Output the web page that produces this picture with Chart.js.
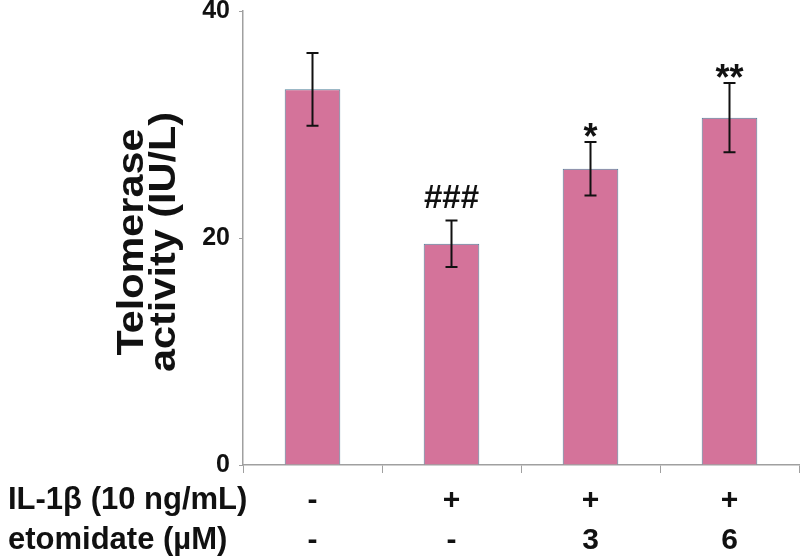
<!DOCTYPE html>
<html>
<head>
<meta charset="utf-8">
<script src="https://cdn.jsdelivr.net/npm/chart.js@4"></script>
<style>
  html, body { margin: 0; padding: 0; background: #fff; }
  #wrap { width: 800px; height: 558px; }
</style>
</head>
<body>
<div id="wrap"><canvas id="chart" width="800" height="558"></canvas></div>
<script>
// datos
const groups = ['ctrl', 'il1b', 'eto3', 'eto6'];
const telomerase = [33.1, 19.5, 26.1, 30.6];
const errors = [3.2, 2.05, 2.35, 3.05];
const marks = ['', '###', '*', '**'];
const rowLabels = ['IL-1β (10 ng/mL)', 'etomidate (µM)'];
const il1bRow = ['-', '+', '+', '+'];
const etomidateRow = ['-', '-', '3', '6'];
const yTicks = [0, 20, 40];

const FONT = 'Arial, "Liberation Sans", sans-serif';

// barras de error + asteriscos
const errorBars = {
    id: 'errorBars',
    afterDatasetsDraw(chart) {
        const { ctx, scales: { x, y } } = chart;
        ctx.save();
        ctx.strokeStyle = '#111';
        ctx.lineWidth = 2;
        telomerase.forEach((v, i) => {
            const cx = x.getPixelForValue(i);
            const top = y.getPixelForValue(v + errors[i]);
            const bot = y.getPixelForValue(v - errors[i]);
            ctx.beginPath();
            ctx.moveTo(cx, top); ctx.lineTo(cx, bot);
            ctx.moveTo(cx - 6, top); ctx.lineTo(cx + 6, top);
            ctx.moveTo(cx - 6, bot); ctx.lineTo(cx + 6, bot);
            ctx.stroke();
            if (marks[i]) {
                ctx.fillStyle = '#111';
                ctx.textAlign = 'center';
                ctx.textBaseline = 'alphabetic';
                if (marks[i].startsWith('*')) {
                    ctx.font = 'bold 36px ' + FONT;
                    ctx.fillText(marks[i], cx, top + 7);
                } else {
                    ctx.font = 'bold 33px ' + FONT;
                    ctx.fillText(marks[i], cx, top - 12);
                }
            }
        });
        ctx.restore();
    }
};

// tabla de tratamientos debajo del eje y título del eje Y
const treatmentTable = {
    id: 'treatmentTable',
    afterDraw(chart) {
        const { ctx, scales: { x } } = chart;
        ctx.save();
        ctx.fillStyle = '#111';
        ctx.font = 'bold 31px ' + FONT;
        ctx.textBaseline = 'alphabetic';
        const rows = [il1bRow, etomidateRow];
        const rowY = [509, 549];
        rows.forEach((row, r) => {
            ctx.textAlign = 'left';
            ctx.fillText(rowLabels[r], 8, rowY[r]);
            ctx.textAlign = 'center';
            ctx.font = 'bold 30px ' + FONT;
            row.forEach((t, i) => ctx.fillText(t, x.getPixelForValue(i), rowY[r]));
            ctx.font = 'bold 31px ' + FONT;
        });

        // título Y en dos líneas (algo estirado, como en la figura)
        ctx.font = 'bold 36px ' + FONT;
        ctx.translate(0, 242);
        ctx.rotate(-Math.PI / 2);
        ctx.scale(1.15, 1);
        ctx.textAlign = 'center';
        ctx.fillText('Telomerase', 0, 143);
        ctx.fillText('activity (IU/L)', 0, 175);
        ctx.restore();
    }
};

new Chart(document.getElementById('chart'), {
    type: 'bar',
    data: {
        labels: groups,
        datasets: [{
            data: telomerase,
            backgroundColor: '#d4739a',
            borderColor: '#50819a',
            borderWidth: 1,
            barPercentage: 0.4,
            categoryPercentage: 1
        }]
    },
    options: {
        responsive: false,
        animation: false,
        layout: { autoPadding: false, padding: { top: 11, right: 1, left: 0, bottom: 0 } },
        plugins: { legend: { display: false }, tooltip: { enabled: false } },
        scales: {
            x: {
                afterFit: s => { s.height = 93; s.paddingLeft = 0; s.paddingRight = 0; },
                grid: { offset: true, drawOnChartArea: false, drawTicks: true, tickLength: 8, color: '#a0a0a0' },
                border: { color: '#a0a0a0', width: 1.5 },
                ticks: { display: false }
            },
            y: {
                min: 0, max: 40,
                afterFit: s => { s.width = 243; s.paddingTop = 0; s.paddingBottom = 0; },
                afterBuildTicks: s => { s.ticks = yTicks.map(v => ({ value: v })); },
                grid: { drawOnChartArea: false, drawTicks: true, tickLength: 4, color: '#a0a0a0' },
                border: { color: '#a0a0a0', width: 1.5 },
                ticks: { color: '#111', padding: 9, font: { family: FONT, size: 25, weight: 'bold' } }
            }
        }
    },
    plugins: [errorBars, treatmentTable]
});
</script>
</body>
</html>
